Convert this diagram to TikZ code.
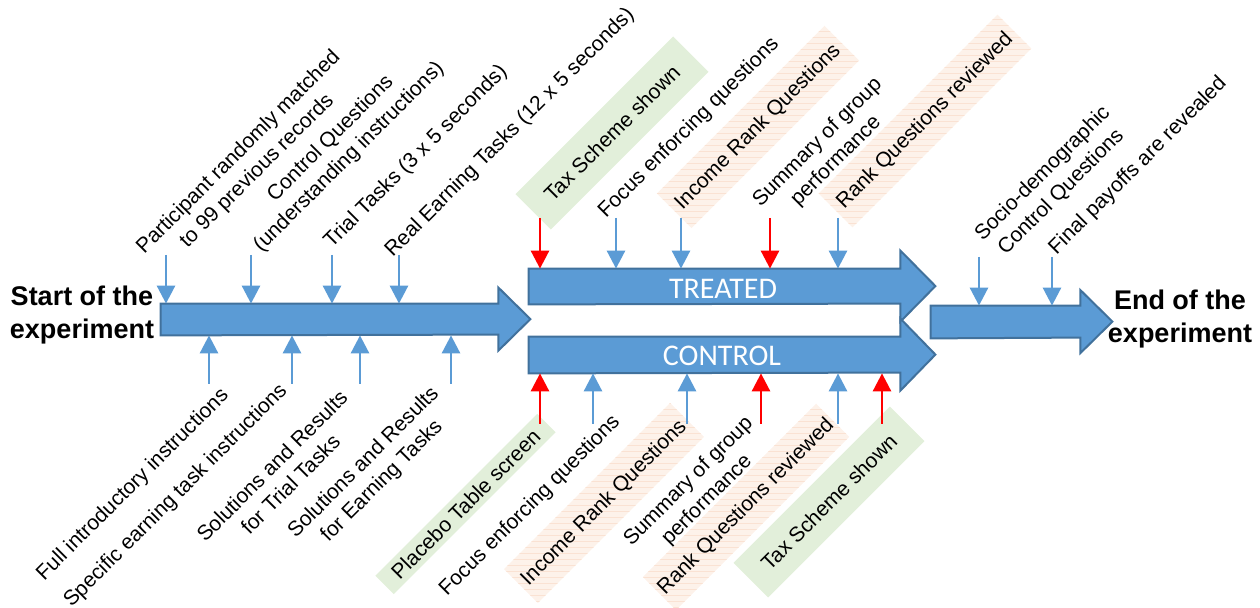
\documentclass[tikz,border=0pt]{standalone}
\usepackage{fontspec}
\setmainfont{Liberation Sans}
\newfontfamily\calibri{Carlito}
\usetikzlibrary{arrows.meta,patterns}

\definecolor{arrowblue}{HTML}{5B9BD5}
\definecolor{arrowedge}{HTML}{41719C}
\definecolor{taxgreen}{HTML}{E2EFDA}
\definecolor{rankpeach}{HTML}{F8D9C4}

\tikzset{
  bigarrow/.style={fill=arrowblue, draw=arrowedge, line width=1pt, line join=miter},
  shaft/.style={draw=none, inner sep=0pt},
  bluetick/.style={draw=arrowblue, line width=1.4pt, -{Triangle[length=9pt,width=9pt]}},
  redtick/.style={bluetick, draw=red},
  lab/.style={rotate=45, align=center, inner sep=0pt, font=\fontsize{10.5}{13}\selectfont},
  taxbox/.style={lab, fill=taxgreen},
  rankbox/.style={lab, preaction={fill=rankpeach!35}, pattern=horizontal lines, pattern color=rankpeach!75},
  ends/.style={align=center, font=\bfseries\fontsize{13.5}{16.5}\selectfont},
  armlabel/.style={text=white, font=\calibri\fontsize{15}{18}\selectfont}
}

\begin{document}
\begin{tikzpicture}[x=0.5pt,y=-0.5pt]
  \useasboundingbox (0,0) rectangle (1260,608);

  % big arrows
  \node[shaft, minimum width=168.5pt, minimum height=15.5pt] (start) at (329.5,319.5) {};
  \node[shaft, minimum width=185.5pt, minimum height=17.5pt] (treated) at (714.5,286.5) {};
  \node[shaft, minimum width=185.5pt, minimum height=18pt] (control) at (714.5,355) {};
  \node[shaft, minimum width=74.5pt, minimum height=16pt] (finale) at (1005.5,322) {};
  \filldraw[bigarrow] (start.north west) -- (start.north east) -- ++(0,-16) -- ++(32,31.5)
    -- ++(-32,31.5) -- ++(0,-16) -- (start.south west) -- cycle;
  \filldraw[bigarrow] (treated.north west) -- (treated.north east) -- ++(0,-18) -- ++(35,35.5)
    -- ++(-35,35.5) -- ++(0,-18) -- (treated.south west) -- cycle;
  \filldraw[bigarrow] (control.north west) -- (control.north east) -- ++(0,-18) -- ++(35,36)
    -- ++(-35,36) -- ++(0,-18) -- (control.south west) -- cycle;
  \filldraw[bigarrow] (finale.north west) -- (finale.north east) -- ++(0,-15.5) -- ++(32,31.5)
    -- ++(-32,31.5) -- ++(0,-15.5) -- (finale.south west) -- cycle;
  \node[armlabel] (treatedtxt) at (723,289) {TREATED};
  \node[armlabel] (controltxt) at (722,356) {CONTROL};

  \node[ends] (begin) at (82,315) {Start of the\\experiment};
  \node[ends] (finish) at (1180,319) {End of the\\experiment};

  % first part
  \node[lab] (participant) at (248,162) {Participant randomly matched\\to 99 previous records};
  \node[lab] (ctrlq) at (340,148) {Control Questions\\(understanding instructions)};
  \node[lab] (trial) at (416,157) {Trial Tasks (3 x 5 seconds)};
  \node[lab] (real) at (510,133) {Real Earning Tasks (12 x 5 seconds)};
  \node[lab] (fullintro) at (133,485) {Full introductory instructions};
  \node[lab] (specific) at (176,496) {Specific earning task instructions};
  \node[lab] (soltrial) at (281,475) {Solutions and Results\\for Trial Tasks};
  \node[lab] (solearn) at (373,472) {Solutions and Results\\for Earning Tasks};

  % treated
  \node[taxbox, minimum width=111.5pt, minimum height=25pt] (taxT) at (612,133) {Tax Scheme shown};
  \node[lab] (focusT) at (689,128) {Focus enforcing questions};
  \node[rankbox, minimum width=118.5pt, minimum height=24.5pt] (incomeT) at (758,127) {Income Rank Questions};
  \node[lab] (summaryT) at (827,152) {Summary of group\\performance};
  \node[rankbox, minimum width=126.5pt, minimum height=24pt] (rankT) at (925,121) {Rank Questions reviewed};

  % control
  \node[taxbox, minimum width=114.5pt, minimum height=13pt] (placebo) at (465.5,504) {Placebo Table screen};
  \node[lab] (focusC) at (530,506) {Focus enforcing questions};
  \node[rankbox, minimum width=117.5pt, minimum height=24pt] (incomeC) at (604,503) {Income Rank Questions};
  \node[lab] (summaryC) at (698,491) {Summary of group\\performance};
  \node[rankbox, minimum width=122.5pt, minimum height=23.5pt] (rankC) at (746,507) {Rank Questions reviewed};
  \node[taxbox, minimum width=110.5pt, minimum height=24.5pt] (taxC) at (829,502) {Tax Scheme shown};

  % last part
  \node[lab] (socio) at (1052,183) {Socio-demographic\\Control Questions};
  \node[lab] (payoffs) at (1138,166) {Final payoffs are revealed};

  % small arrows
  \coordinate (p1) at (166,255); \draw[bluetick] (p1) -- (p1 |- start.north);
  \coordinate (p2) at (251,255); \draw[bluetick] (p2) -- (p2 |- start.north);
  \coordinate (p3) at (332,255); \draw[bluetick] (p3) -- (p3 |- start.north);
  \coordinate (p4) at (399,255); \draw[bluetick] (p4) -- (p4 |- start.north);
  \coordinate (q1) at (209,384); \draw[bluetick] (q1) -- (q1 |- start.south);
  \coordinate (q2) at (292,384); \draw[bluetick] (q2) -- (q2 |- start.south);
  \coordinate (q3) at (360,384); \draw[bluetick] (q3) -- (q3 |- start.south);
  \coordinate (q4) at (451,384); \draw[bluetick] (q4) -- (q4 |- start.south);

  \coordinate (t1) at (540,218); \draw[redtick] (t1) -- (t1 |- treated.north);
  \coordinate (t2) at (616,218); \draw[bluetick] (t2) -- (t2 |- treated.north);
  \coordinate (t3) at (681,218); \draw[bluetick] (t3) -- (t3 |- treated.north);
  \coordinate (t4) at (770,218); \draw[redtick] (t4) -- (t4 |- treated.north);
  \coordinate (t5) at (838,218); \draw[bluetick] (t5) -- (t5 |- treated.north);

  \coordinate (c1) at (540,424); \draw[redtick] (c1) -- (c1 |- control.south);
  \coordinate (c2) at (593,424); \draw[bluetick] (c2) -- (c2 |- control.south);
  \coordinate (c3) at (687,424); \draw[bluetick] (c3) -- (c3 |- control.south);
  \coordinate (c4) at (761,424); \draw[redtick] (c4) -- (c4 |- control.south);
  \coordinate (c5) at (838,424); \draw[bluetick] (c5) -- (c5 |- control.south);
  \coordinate (c6) at (882,424); \draw[redtick] (c6) -- (c6 |- control.south);

  \coordinate (e1) at (979,257); \draw[bluetick] (e1) -- (e1 |- finale.north);
  \coordinate (e2) at (1052,257); \draw[bluetick] (e2) -- (e2 |- finale.north);
\end{tikzpicture}
\end{document}
